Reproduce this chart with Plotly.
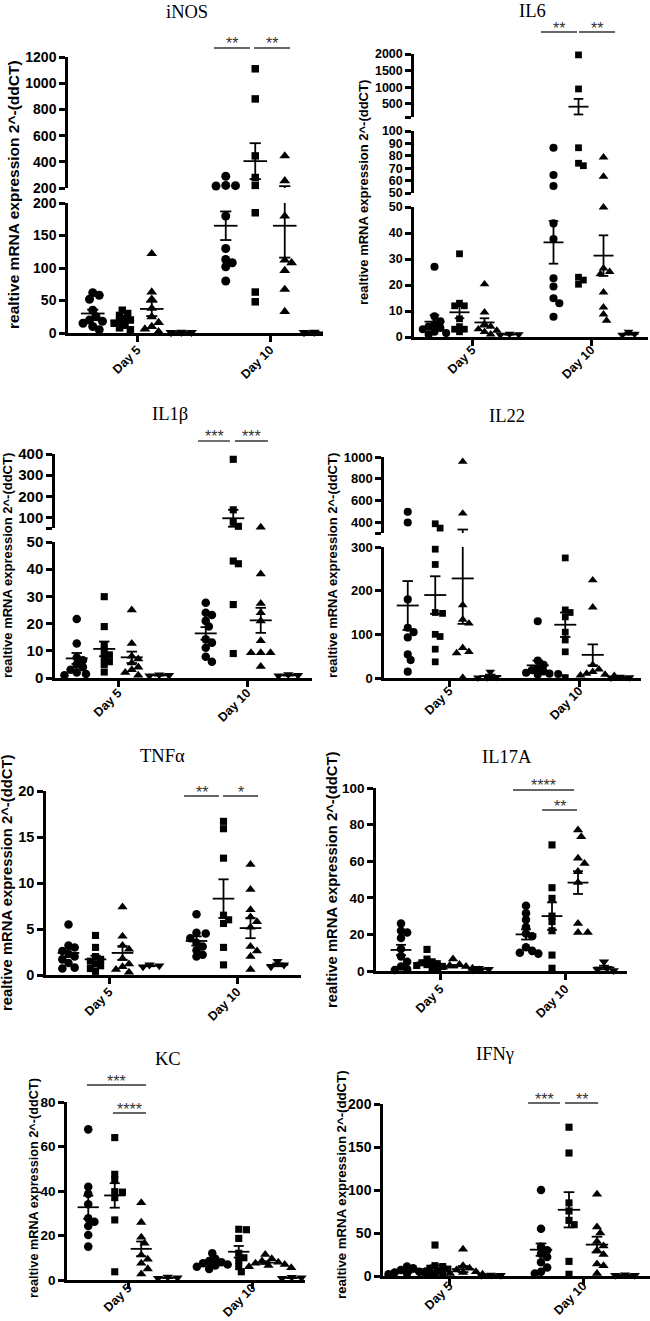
import plotly.graph_objects as go

W, H = 650, 1321
DAYS = ["Day 5", "Day 10"]
SYMBOLS = ["circle", "square", "triangle-up", "triangle-down"]

# ---------------- data ----------------
# each *_D5 / *_D10 : [circles, squares, triangles, inverted triangles]
INOS_D5 = [[62, 58, 52, 35, 25, 20, 18, 15, 10, 5],
           [35, 30, 27, 22, 20, 18, 15, 12, 8, 5],
           [122, 63, 52, 38, 25, 16, 10, 6, 2],
           [1.2, 1.0, 0.8]]
INOS_D10 = [[290, 220, 218, 215, 180, 130, 113, 108, 102, 80],
            [1110, 880, 445, 280, 220, 185, 63, 48],
            [445, 255, 180, 112, 108, 96, 67, 33],
            [1.3, 1.0, 0.8]]
INOS_MEAN = [[30, 19, 37, 1.0], [165, 405, 165, 1.0]]
INOS_SEM = [[6, 3.5, 11, 0.1], [22, 137, 49, 0.1]]
INOS_SEGS = [[200, 1200], [0, 200]]
INOS_TICKS = [[200, 400, 600, 800, 1000, 1200], [0, 50, 100, 150, 200]]
INOS_TICKTEXT = [["200", "400", "600", "800", "1000", "1200"], ["0", "50", "100", "150", "200"]]
INOS_SIG = [(1, 0, 1, "**"), (1, 1, 2, "**")]

IL6_D5 = [[27, 8, 6, 5, 4, 3.5, 3, 2, 1.5, 1],
          [32, 13, 12, 12, 7, 4, 3, 3, 2],
          [20.3, 9.5, 5, 4, 3, 2.5, 2, 1],
          [1.2, 1.0, 0.8]]
IL6_D10 = [[86.5, 64.5, 55.6, 43.7, 37.7, 22.6, 19.4, 14.9, 13, 7.8],
           [1973, 946, 86.5, 74, 72, 23, 21.9, 20.3],
           [78.8, 63.2, 49.9, 26.4, 25.1, 24.2, 17.2, 11.4, 8.7, 6.3],
           [2.0, 1.2, 0.8]]
IL6_MEAN = [[5.9, 9.5, 5.6, 1.0], [36.4, 411, 31.3, 1.2]]
IL6_SEM = [[2.5, 2.3, 1.6, 0.1], [8.2, 235, 7.8, 0.3]]
IL6_SEGS = [[100, 2000], [50, 100], [0, 50]]
IL6_TICKS = [[100, 500, 1000, 1500, 2000], [50, 60, 70, 80, 90, 100], [0, 10, 20, 30, 40, 50]]
IL6_TICKTEXT = [["", "500", "1000", "1500", "2000"],
                ["50", "60", "70", "80", "90", "100"],
                ["0", "10", "20", "30", "40", "50"]]
IL6_SIG = [(1, 0, 1, "**"), (1, 1, 2, "**")]

IL1B_D5 = [[21.7, 12.7, 7.5, 6.5, 5, 4, 3, 2, 1.5, 1],
           [29.9, 18.9, 12, 10, 8.5, 7.5, 6, 5, 2.2],
           [25, 12.7, 8, 7, 5.5, 4, 3, 2, 1],
           [1.2, 1.0, 0.8]]
IL1B_D10 = [[27.7, 24, 23.2, 21, 18.9, 14.2, 13, 11.1, 7.8, 6],
            [375, 136, 77, 58, 43, 42, 27, 9],
            [54, 38.2, 27.4, 24, 21, 13.7, 9.3, 9.3, 9.3, 4.2],
            [1.3, 1.0, 0.8]]
IL1B_MEAN = [[7.2, 10.7, 7.6, 1.0], [16.4, 96, 21.2, 1.0]]
IL1B_SEM = [[2.0, 2.7, 2.1, 0.1], [2.3, 40, 4.6, 0.1]]
IL1B_SEGS = [[50, 400], [0, 50]]
IL1B_TICKS = [[50, 100, 200, 300, 400], [0, 10, 20, 30, 40, 50]]
IL1B_TICKTEXT = [["", "100", "200", "300", "400"], ["0", "10", "20", "30", "40", "50"]]
IL1B_SIG = [(1, 0, 1, "***"), (1, 1, 2, "***")]

IL22_D5 = [[495, 397, 180, 115, 105, 93, 54, 41, 14.5],
           [385, 345, 295, 260, 150, 148, 100, 95, 66, 37],
           [957, 480, 167, 134, 125, 69, 60, 57, 1],
           [14, 2, 1, 0.8]]
IL22_D10 = [[130, 40, 30, 22, 18, 15, 12, 10, 9, 8],
            [275, 156, 150, 140, 105, 87, 60, 1],
            [224, 162, 30, 20, 14, 10, 8, 6, 5],
            [2.5, 1.2, 0.8]]
IL22_MEAN = [[166, 190, 228, 4.5], [29, 122, 53, 1.5]]
IL22_SEM = [[56, 43, 104, 3.2], [11, 28, 24, 0.5]]
IL22_SEGS = [[300, 1000], [0, 300]]
IL22_TICKS = [[300, 400, 600, 800, 1000], [0, 100, 200, 300]]
IL22_TICKTEXT = [["", "400", "600", "800", "1000"], ["0", "100", "200", "300"]]
IL22_SIG = []

TNF_D5 = [[5.5, 3.2, 3.0, 2.6, 2.3, 2.0, 1.7, 1.3, 0.8, 0.7],
          [4.3, 3.0, 2.0, 1.7, 1.5, 1.2, 1.0, 0.7, 0.4],
          [7.4, 4.2, 3.2, 2.8, 1.8, 1.2, 0.9, 0.6, 0.3],
          [1.1, 1.0, 0.9]]
TNF_D10 = [[6.6, 4.6, 4.5, 4.0, 3.5, 3.1, 2.7, 2.2, 2.0],
           [16.7, 15.9, 12.7, 6.5, 6.0, 5.6, 3.0, 1.1],
           [12, 9.3, 7.1, 6.3, 5.8, 5.2, 3.1, 2.6, 2.0, 0.6],
           [1.5, 1.1, 0.9]]
TNF_MEAN = [[2.4, 1.7, 2.4, 1.0], [3.7, 8.3, 5.1, 1.1]]
TNF_SEM = [[0.45, 0.4, 0.75, 0.05], [0.5, 2.1, 1.1, 0.15]]
TNF_SEGS = [[0, 20]]
TNF_TICKS = [[0, 5, 10, 15, 20]]
TNF_TICKTEXT = [["0", "5", "10", "15", "20"]]
TNF_SIG = [(1, 0, 1, "**"), (1, 1, 2, "*")]

IL17_D5 = [[26, 22, 21, 18, 12, 8, 5, 2.5, 1, 0.5],
           [11.8, 6.5, 5, 4.5, 4, 3.5, 3, 2.5, 1.5],
           [6.5, 3.5, 3, 2.5, 2, 1.5, 1, 0.5],
           [1.5, 1.0, 0.6]]
IL17_D10 = [[35.7, 31.5, 28, 24, 20.5, 19, 13, 11, 10, 9.5],
            [68.9, 45.5, 39.7, 30, 27, 22, 8.7, 1.5],
            [77, 73.4, 61.6, 58.8, 54.3, 48.3, 26, 21, 21],
            [5, 1.5, 0.8, 0.3]]
IL17_MEAN = [[11.5, 4.7, 2.6, 1.0], [20, 30, 48.3, 1.9]]
IL17_SEM = [[2.8, 1.0, 0.7, 0.3], [2.8, 7.5, 6.2, 1.0]]
IL17_SEGS = [[0, 100]]
IL17_TICKS = [[0, 20, 40, 60, 80, 100]]
IL17_TICKTEXT = [["0", "20", "40", "60", "80", "100"]]
IL17_SIG = [(1, 0, 2, "****"), (1, 1, 2, "**")]

KC_D5 = [[67.7, 41.9, 38.7, 34, 27.7, 26.2, 24.3, 20.2, 15],
         [64, 47.5, 45, 39.7, 39.5, 37, 27, 3.7],
         [34.7, 25.9, 19.2, 16.5, 11.2, 9.3, 7.5, 5, 2.7],
         [1.3, 1.0, 0.8]]
KC_D10 = [[12, 9.5, 8.5, 8, 7.5, 7, 6.5, 6, 5],
          [22.8, 22.6, 18.7, 12, 10, 8.7, 6, 3.7],
          [11.5, 9.5, 8.5, 8, 7.5, 7, 6.5, 6, 5.5],
          [1.2, 1.0, 0.8]]
KC_MEAN = [[32.7, 38, 14, 1.0], [7.8, 12.7, 7.8, 1.0]]
KC_SEM = [[5.2, 5.5, 3.3, 0.1], [0.7, 2.6, 0.6, 0.1]]
KC_SEGS = [[0, 80]]
KC_TICKS = [[0, 20, 40, 60, 80]]
KC_TICKTEXT = [["0", "20", "40", "60", "80"]]
KC_SIG = [(0, 0, 2, "***"), (0, 1, 2, "****")]

IFNG_D5 = [[11, 9, 7, 5, 4, 3, 2.5, 2, 1.5],
           [36, 12, 11, 9, 8, 6, 5, 4, 3],
           [31, 12, 9, 7, 5, 4, 3, 2],
           [1.2, 1.0, 0.8]]
IFNG_D10 = [[100, 55, 34, 30, 26, 22, 16, 10, 5, 3],
            [173, 143, 85, 75.6, 64.7, 59.7, 17, 2],
            [95, 57, 50, 40, 35, 30, 25, 14, 12, 3],
            [1.5, 1.0, 0.8]]
IFNG_MEAN = [[5, 9, 8, 1.0], [30.6, 77, 36.5, 1.0]]
IFNG_SEM = [[1.1, 3.3, 3.5, 0.1], [7.2, 20.5, 9.2, 0.1]]
IFNG_SEGS = [[0, 200]]
IFNG_TICKS = [[0, 50, 100, 150, 200]]
IFNG_TICKTEXT = [["0", "50", "100", "150", "200"]]
IFNG_SIG = [(1, 0, 1, "***"), (1, 1, 2, "**")]

YTITLE = "realtive mRNA expression 2^-(ddCT)"

# ---------------- layout (positions in pixels) ----------------
PANELS = [
    dict(title="iNOS", data=[INOS_D5, INOS_D10], mean=INOS_MEAN, sem=INOS_SEM, segs=INOS_SEGS,
         ticks=INOS_TICKS, ticktext=INOS_TICKTEXT, sig=INOS_SIG,
         left=68, right=323, c5=137, c10=270, s=29.5, seg_px=[(57, 188), (203, 333)],
         title_xy=(187, 12), yt_xy=(13, 195), yt_size=15.5, tick_size=14, mk=1.0, xstand=-4,
         sig_px=[48, 48], sig_off=[(-0.40, -0.18), (-0.04, 0.18)]),
    dict(title="IL6", data=[IL6_D5, IL6_D10], mean=IL6_MEAN, sem=IL6_SEM, segs=IL6_SEGS,
         ticks=IL6_TICKS, ticktext=IL6_TICKTEXT, sig=IL6_SIG,
         left=414, right=648, c5=472, c10=591, s=25, seg_px=[(54, 117), (131, 193), (207, 337)],
         title_xy=(532, 11), yt_xy=(364, 193), yt_size=13, tick_size=12.5, mk=0.9, xstand=-8,
         sig_px=[32, 32], sig_off=[(-0.5, -0.06), (0.02, 0.46)]),
    dict(title="IL1β", data=[IL1B_D5, IL1B_D10], mean=IL1B_MEAN, sem=IL1B_SEM, segs=IL1B_SEGS,
         ticks=IL1B_TICKS, ticktext=IL1B_TICKTEXT, sig=IL1B_SIG,
         left=55, right=312, c5=118, c10=247, s=27.5, seg_px=[(454, 528), (542, 678)],
         title_xy=(170, 414), yt_xy=(7, 566), yt_size=13, tick_size=15, mk=0.95, xstand=-6,
         sig_px=[441, 441], sig_off=[(-0.28, -0.12), (0.06, 0.26)]),
    dict(title="IL22", data=[IL22_D5, IL22_D10], mean=IL22_MEAN, sem=IL22_SEM, segs=IL22_SEGS,
         ticks=IL22_TICKS, ticktext=IL22_TICKTEXT, sig=IL22_SIG,
         left=384, right=641, c5=449, c10=579, s=27.5, seg_px=[(457, 533), (547, 678)],
         title_xy=(507, 416), yt_xy=(332, 566), yt_size=13, tick_size=13, mk=0.9, xstand=-8,
         sig_px=[], sig_off=[]),
    dict(title="TNFα", data=[TNF_D5, TNF_D10], mean=TNF_MEAN, sem=TNF_SEM, segs=TNF_SEGS,
         ticks=TNF_TICKS, ticktext=TNF_TICKTEXT, sig=TNF_SIG,
         left=46, right=301, c5=109, c10=237, s=27, seg_px=[(791, 975)],
         title_xy=(162, 756), yt_xy=(7, 883), yt_size=14.8, tick_size=14.5, mk=0.95, xstand=-4,
         sig_px=[796, 796], sig_off=[(-0.46, -0.17), (-0.02, 0.28)]),
    dict(title="IL17A", data=[IL17_D5, IL17_D10], mean=IL17_MEAN, sem=IL17_SEM, segs=IL17_SEGS,
         ticks=IL17_TICKS, ticktext=IL17_TICKTEXT, sig=IL17_SIG,
         left=376, right=627, c5=440, c10=565, s=26, seg_px=[(788, 971)],
         title_xy=(507, 757), yt_xy=(332, 880), yt_size=14.8, tick_size=13.5, mk=0.95, xstand=-3,
         sig_px=[790, 810], sig_off=[(-0.5, -0.15), (-0.38, -0.04)]),
    dict(title="KC", data=[KC_D5, KC_D10], mean=KC_MEAN, sem=KC_SEM, segs=KC_SEGS,
         ticks=KC_TICKS, ticktext=KC_TICKTEXT, sig=KC_SIG,
         left=67, right=305, c5=128, c10=252, s=26.5, seg_px=[(1102, 1280)],
         title_xy=(168, 1059), yt_xy=(34, 1188), yt_size=12.7, tick_size=13.5, mk=0.95, xstand=-13,
         sig_px=[1085, 1113], sig_off=[(-0.05, 0.18), (-0.07, 0.18)]),
    dict(title="IFNγ", data=[IFNG_D5, IFNG_D10], mean=IFNG_MEAN, sem=IFNG_SEM, segs=IFNG_SEGS,
         ticks=IFNG_TICKS, ticktext=IFNG_TICKTEXT, sig=IFNG_SIG,
         left=383, right=650, c5=449, c10=583, s=28, seg_px=[(1104, 1276)],
         title_xy=(495, 1054), yt_xy=(341, 1185), yt_size=13.2, tick_size=14, mk=0.95, xstand=-11,
         sig_px=[1103, 1103], sig_off=[(-0.46, -0.32), (-0.14, 0.04)]),
]

BASE_SIZES = [9, 7.5, 9.5, 9.5]
SANS = "Liberation Sans"
SERIF = "Liberation Serif"
AXW = 2.5


def py2paper(py):
    return 1 - py / H


def px2paper(px):
    return px / W


def seg_of(P, v):
    segs = P["segs"]
    for j in range(len(segs) - 1, -1, -1):
        lo, hi = segs[j]
        if lo <= v <= hi:
            return j
    return 0


def val2px(P, v):
    j = seg_of(P, v)
    lo, hi = P["segs"][j]
    top, bot = P["seg_px"][j]
    vv = min(max(v, lo), hi)
    return bot - (vv - lo) / (hi - lo) * (bot - top)


def swarm(pys, d):
    n = len(pys)
    order = sorted(range(n), key=lambda i: pys[i])
    placed = []
    offs = [0.0] * n
    step, mind = 0.36 * d, 0.74 * d
    for i in order:
        k = 0
        while True:
            m = (k + 1) // 2
            cand = 0.0 if k == 0 else m * step * (1 if k % 2 == 1 else -1)
            if all((cand - ox) ** 2 + (pys[i] - oy) ** 2 >= mind ** 2 for ox, oy in placed):
                break
            k += 1
        offs[i] = cand
        placed.append((cand, pys[i]))
    return offs


fig = go.Figure()
layout = dict(width=W, height=H, margin=dict(l=0, r=0, t=0, b=0), showlegend=False,
              paper_bgcolor="white", plot_bgcolor="white")
shapes, annotations = [], []
nx, ny = 0, 0

for P in PANELS:
    nx += 1
    xname = "x" if nx == 1 else f"x{nx}"
    xkey = "xaxis" if nx == 1 else f"xaxis{nx}"
    s = P["s"]
    G = (P["c10"] - P["c5"]) / s
    xmin = -(P["c5"] - P["left"]) / s
    xmax = G + (P["right"] - P["c10"]) / s
    nseg = len(P["segs"])
    ynames, ykeys = [], []
    for j in range(nseg):
        ny += 1
        ynames.append("y" if ny == 1 else f"y{ny}")
        ykeys.append("yaxis" if ny == 1 else f"yaxis{ny}")

    tickfont = dict(family=SANS, size=P["tick_size"], color="black", weight="bold")
    xtickfont = dict(family=SANS, size=12.5, color="black", weight="bold")
    layout[xkey] = dict(domain=[px2paper(P["left"]), px2paper(P["right"])], range=[xmin, xmax],
                        anchor=ynames[-1], showline=True, linewidth=AXW, linecolor="black",
                        ticks="outside", ticklen=6, tickwidth=AXW, tickcolor="black",
                        tickvals=[0, G], ticktext=DAYS, tickangle=-45, tickfont=xtickfont,
                        ticklabelstandoff=P["xstand"],
                        showgrid=False, zeroline=False, automargin=False, fixedrange=True)
    for j in range(nseg):
        top, bot = P["seg_px"][j]
        layout[ykeys[j]] = dict(domain=[py2paper(bot), py2paper(top)], range=P["segs"][j],
                                anchor=xname, showline=True, linewidth=AXW, linecolor="black",
                                ticks="outside", ticklen=6, tickwidth=AXW, tickcolor="black",
                                tickvals=P["ticks"][j], ticktext=P["ticktext"][j],
                                tickfont=tickfont, showgrid=False, zeroline=False,
                                automargin=False, fixedrange=True)

    # points
    pts = [[[[], []] for _ in range(nseg)] for _ in range(4)]
    for di, day in enumerate(P["data"]):
        for g, vals in enumerate(day):
            size = BASE_SIZES[g] * P["mk"]
            pys = [val2px(P, v) for v in vals]
            offs = swarm(pys, size)
            xc = di * G + (g - 1.5)
            for v, o in zip(vals, offs):
                j = seg_of(P, v)
                pts[g][j][0].append(xc + o / s)
                pts[g][j][1].append(v)
    for g in range(4):
        for j in range(nseg):
            xs, ys = pts[g][j]
            if not xs:
                continue
            fig.add_trace(go.Scatter(x=xs, y=ys, xaxis=xname, yaxis=ynames[j], mode="markers",
                                     cliponaxis=False, hoverinfo="skip",
                                     marker=dict(symbol=SYMBOLS[g], size=BASE_SIZES[g] * P["mk"],
                                                 color="black", line=dict(width=0))))
    # mean +- SEM
    lx, ly = [], []
    for di in range(2):
        for g in range(4):
            xc = di * G + (g - 1.5)
            m, e = P["mean"][di][g], P["sem"][di][g]
            lx += [xc - 0.4, xc + 0.4, None, xc, xc, None,
                   xc - 0.19, xc + 0.19, None, xc - 0.19, xc + 0.19, None]
            ly += [m, m, None, m - e, m + e, None, m + e, m + e, None, m - e, m - e, None]
    for j in range(nseg):
        fig.add_trace(go.Scatter(x=lx, y=ly, xaxis=xname, yaxis=ynames[j], mode="lines",
                                 hoverinfo="skip", line=dict(color="black", width=1.8)))

    # significance bars
    for (di, a, b, label), ypx, (oa, ob) in zip(P["sig"], P["sig_px"], P["sig_off"]):
        x0 = di * G + (a - 1.5) + oa
        x1 = di * G + (b - 1.5) + ob
        shapes.append(dict(type="line", xref=xname, yref="paper", x0=x0, x1=x1,
                           y0=py2paper(ypx), y1=py2paper(ypx),
                           line=dict(color="#333333", width=1.4)))
        annotations.append(dict(xref=xname, yref="paper", x=(x0 + x1) / 2, y=py2paper(ypx - 4),
                                text=label, showarrow=False, yanchor="middle", xanchor="center",
                                font=dict(family=SANS, size=16, color="#333333")))

    # titles
    tx, ty = P["title_xy"]
    annotations.append(dict(xref="paper", yref="paper", x=px2paper(tx), y=py2paper(ty),
                            text=P["title"], showarrow=False, xanchor="center", yanchor="middle",
                            font=dict(family=SERIF, size=18.5, color="black")))
    yx, yy = P["yt_xy"]
    annotations.append(dict(xref="paper", yref="paper", x=px2paper(yx), y=py2paper(yy),
                            text=YTITLE, showarrow=False, textangle=-90, xanchor="center",
                            yanchor="middle",
                            font=dict(family=SANS, size=P["yt_size"], color="black", weight="bold")))

layout["shapes"] = shapes
layout["annotations"] = annotations
fig.update_layout(**layout)
fig.write_html("out.html", config={"displayModeBar": False},
               post_script="document.body.style.margin='0';document.body.style.overflow='hidden';")
